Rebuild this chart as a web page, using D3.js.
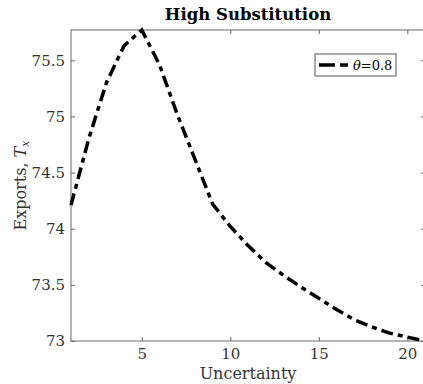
<!DOCTYPE html>
<html>
<head>
<meta charset="utf-8">
<script src="https://cdn.jsdelivr.net/npm/d3@7"></script>
<style>
  body { margin: 0; background: #fff; }
  svg text { font-family: "DejaVu Serif", "Liberation Serif", serif; }
</style>
</head>
<body>
<div id="chart"></div>
<script>
const width = 423, height = 384;

// Uncertainty levels and exports for theta = 0.8
const uncertainty = [1, 2, 3, 4, 5, 6, 7, 8, 9, 10, 11, 12, 13, 14, 15, 16, 17, 18, 19, 20, 21];
const exportsTx = [74.21, 74.80, 75.30, 75.63, 75.77, 75.46, 75.02, 74.62, 74.22, 74.02, 73.85,
                   73.70, 73.585, 73.48, 73.38, 73.28, 73.19, 73.125, 73.07, 73.035, 73.0];
const xTicks = [5, 10, 15, 20];
const yTicks = [73, 73.5, 74, 74.5, 75, 75.5];
const seriesLabel = "0.8";

const margin = {left: 71, top: 30, right: -2, bottom: 43};

const svg = d3.select("#chart").append("svg")
    .attr("width", width)
    .attr("height", height);

const x = d3.scaleLinear()
    .domain([1, 21])
    .range([margin.left, width - margin.right]);

const y = d3.scaleLinear()
    .domain([73, 75.77])
    .range([height - margin.bottom, margin.top]);

const axisColor = "#666";
const font = "DejaVu Serif, Liberation Serif, serif";

// box
svg.append("rect")
    .attr("x", x(1)).attr("y", y(75.77))
    .attr("width", x(21) - x(1)).attr("height", y(73) - y(75.77))
    .attr("fill", "none").attr("stroke", axisColor).attr("stroke-width", 1);

function styleAxis(g, showText) {
    g.attr("font-family", font);
    g.select(".domain").remove();
    g.selectAll(".tick line").attr("stroke", axisColor);
    g.selectAll(".tick text")
        .attr("fill", "#333")
        .style("font-size", "15px")
        .style("display", showText ? null : "none");
}

svg.append("g")
    .attr("transform", "translate(0," + y(73) + ")")
    .call(d3.axisBottom(x).tickValues(xTicks).tickSize(-4).tickPadding(7))
    .call(g => styleAxis(g, true));

svg.append("g")
    .attr("transform", "translate(0," + y(75.77) + ")")
    .call(d3.axisTop(x).tickValues(xTicks).tickSize(-4))
    .call(g => styleAxis(g, false));

svg.append("g")
    .attr("transform", "translate(" + x(1) + ",0)")
    .call(d3.axisLeft(y).tickValues(yTicks).tickFormat(d3.format("")).tickSize(-4).tickPadding(6))
    .call(g => styleAxis(g, true));

svg.append("g")
    .attr("transform", "translate(" + x(21) + ",0)")
    .call(d3.axisRight(y).tickValues(yTicks).tickSize(-4))
    .call(g => styleAxis(g, false));

// line
const line = d3.line()
    .x((d, i) => x(uncertainty[i]))
    .y(d => y(d));

svg.append("path")
    .datum(exportsTx)
    .attr("d", line)
    .attr("fill", "none")
    .attr("stroke", "#000")
    .attr("stroke-width", 3.5)
    .attr("stroke-dasharray", "12,5,5,5");

// title and labels
svg.append("text")
    .attr("x", (x(1) + x(21)) / 2)
    .attr("y", 20)
    .attr("text-anchor", "middle")
    .style("font-size", "16.5px")
    .style("font-weight", "bold")
    .text("High Substitution");

svg.append("text")
    .attr("x", (x(1) + x(21)) / 2)
    .attr("y", 379)
    .attr("text-anchor", "middle")
    .attr("fill", "#333")
    .style("font-size", "16px")
    .text("Uncertainty");

const ylab = svg.append("text")
    .attr("transform", "translate(26," + (y(73) + y(75.77)) / 2 + ") rotate(-90)")
    .attr("text-anchor", "middle")
    .attr("fill", "#333")
    .style("font-size", "16px");
ylab.append("tspan").text("Exports, ");
ylab.append("tspan").style("font-style", "italic").text("T");
ylab.append("tspan").style("font-style", "italic").style("font-size", "11px").attr("dy", 3).text("x");

// legend
const legend = svg.append("g").attr("transform", "translate(315,54)");
legend.append("rect")
    .attr("width", 81).attr("height", 22)
    .attr("fill", "#fff").attr("stroke", "#555").attr("stroke-width", 1);
legend.append("line")
    .attr("x1", 4).attr("x2", 33).attr("y1", 11).attr("y2", 11)
    .attr("stroke", "#000").attr("stroke-width", 3.5)
    .attr("stroke-dasharray", "16,5,8,5");
const lt = legend.append("text")
    .attr("x", 38).attr("y", 16)
    .style("font-size", "13px");
lt.append("tspan").style("font-style", "italic").text("\u03b8");
lt.append("tspan").text("=" + seriesLabel);
</script>
</body>
</html>
